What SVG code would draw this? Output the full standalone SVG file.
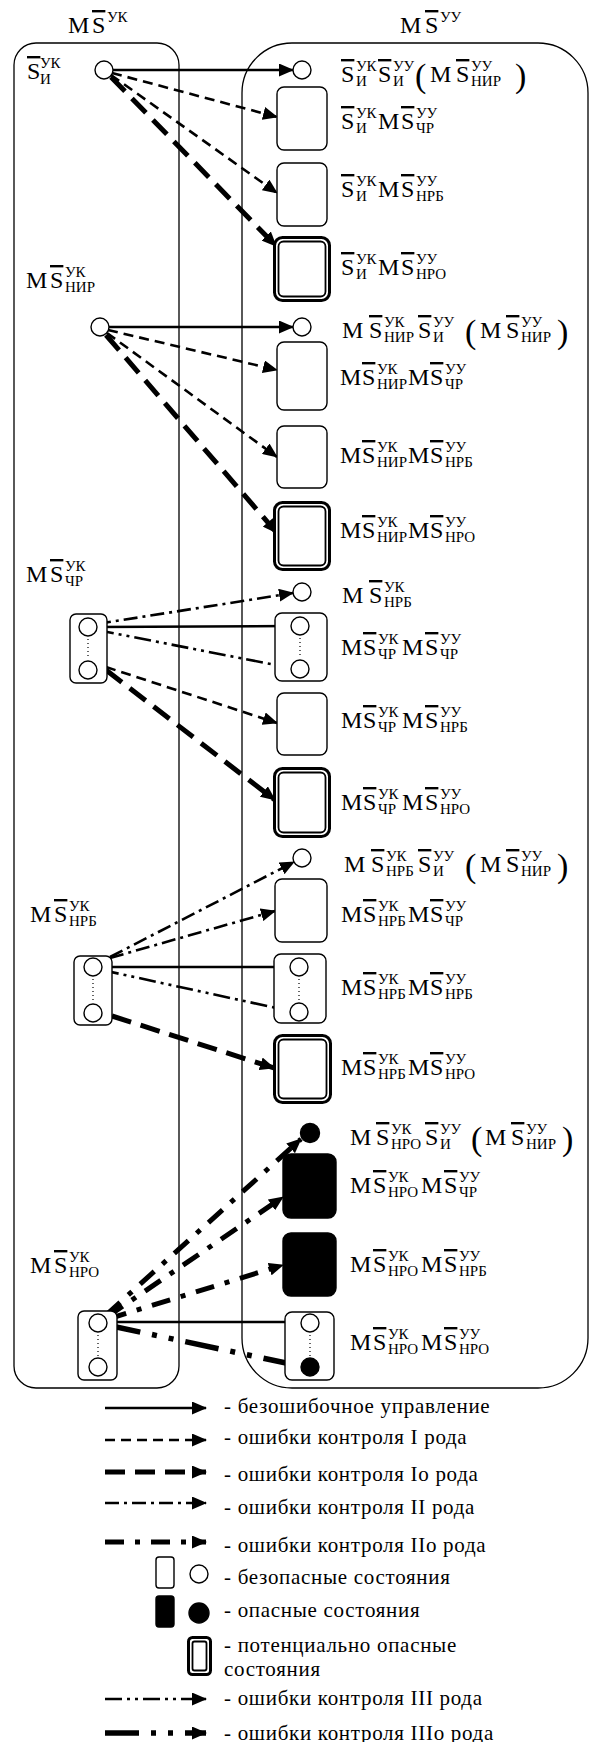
<svg xmlns="http://www.w3.org/2000/svg" width="590" height="1742" viewBox="0 0 590 1742">
<style>
.t{font-family:"Liberation Serif","Times New Roman",serif;font-size:24px;fill:#000}
.s{font-size:15px}
.p{font-size:34px}
.ov{text-decoration:overline}
.lg{font-family:"Liberation Serif","Times New Roman",serif;font-size:21px;letter-spacing:0.7px;fill:#000}
.box{fill:#fff;stroke:#000;stroke-width:1.4}
.dark{fill:#000;stroke:#000;stroke-width:1.4}
.pd{fill:#fff;stroke:#000;stroke-width:3}
.pi{fill:none;stroke:#000;stroke-width:1.8}
.dot{stroke:#000;stroke-width:1.2;stroke-dasharray:1 3}
.cont{fill:none;stroke:#000;stroke-width:1.3}
.c{fill:none;stroke:#000;marker-end:url(#ah)}
.sol{stroke-width:2.6}
.d1{stroke-width:2.6;stroke-dasharray:10 6}
.d1o{stroke-width:5;stroke-dasharray:20 10}
.d2{stroke-width:2.6;stroke-dasharray:14 5 3 5}
.d2o{stroke-width:5;stroke-dasharray:19 11 5 11}
.d3{stroke-width:2.6;stroke-dasharray:17 5 3 5 3 5}
.d3o{stroke-width:5.5;stroke-dasharray:34 12 5 12 5 12}
</style>
<defs>
<marker id="ah" viewBox="0 0 15 13" markerWidth="15" markerHeight="13" refX="14" refY="6.5" orient="auto" markerUnits="userSpaceOnUse"><path d="M0,0L15,6.5L0,13z" fill="#000"/></marker>
</defs>

<g id="containers">
<rect class="cont" x="14" y="43" width="165" height="1345" rx="22"/>
<rect class="cont" x="242" y="43" width="346" height="1345" rx="50"/>
<text class="t"><tspan x="68" y="33">M</tspan><tspan x="92" y="33" class="ov">S</tspan><tspan x="107" y="22" class="s">УК</tspan></text>
<text class="t"><tspan x="400" y="33">M</tspan><tspan x="425" y="33" class="ov">S</tspan><tspan x="440" y="22" class="s">УУ</tspan></text>
</g>

<g id="connectors">
<path class="c sol" d="M113,70L293,70"/>
<path class="c d1" d="M112,73L277,117"/>
<path class="c d1" d="M111,75L277,193"/>
<path class="c d1o" d="M111,77L276,246"/>
<path class="c sol" d="M109,327L293,327"/>
<path class="c d1" d="M108,330L277,370"/>
<path class="c d1" d="M107,333L277,457"/>
<path class="c d1o" d="M106,335L277,533"/>
<path class="c d2" d="M97,624L293,593"/>
<path class="c sol" d="M97,627L291,626"/>
<path class="c d3" d="M97,630L291,668"/>
<path class="c d1" d="M106,667L277,723"/>
<path class="c d1o" d="M106,670L275,800"/>
<path class="c d2" d="M110,957L294,862"/>
<path class="c d2" d="M110,958L275,911"/>
<path class="c sol" d="M102,967L290,967"/>
<path class="c d3" d="M102,970L290,1011"/>
<path class="c d1o" d="M112,1016L274,1068"/>
<path class="c d2o" d="M106,1315L301,1139"/>
<path class="c d2o" d="M107,1317L283,1197"/>
<path class="c d2o" d="M108,1319L283,1265"/>
<path class="c sol" d="M107,1322L300,1322"/>
<path class="c d3o" d="M107,1325L300,1366"/>
</g>

<g id="L1">
<circle class="box" cx="104" cy="70" r="9"/>
<text class="t"><tspan x="27" y="79" class="ov">S</tspan><tspan x="40" y="68" class="s">УК</tspan><tspan x="40" y="84" class="s">И</tspan></text>
</g>
<g id="R1a">
<circle class="box" cx="302" cy="70" r="9"/>
<text class="t"><tspan x="341" y="82" class="ov">S</tspan><tspan x="356" y="71" class="s">УК</tspan><tspan x="356" y="86" class="s">И</tspan><tspan x="378" y="82" class="ov">S</tspan><tspan x="393" y="71" class="s">УУ</tspan><tspan x="393" y="86" class="s">И</tspan><tspan x="415" y="87" class="p">(</tspan><tspan x="430" y="82">M</tspan><tspan x="456" y="82" class="ov">S</tspan><tspan x="471" y="71" class="s">УУ</tspan><tspan x="471" y="86" class="s">НИР</tspan><tspan x="515" y="87" class="p">)</tspan></text>
</g>
<g id="R1b">
<rect class="box" x="277" y="87" width="50" height="63" rx="7"/>
<text class="t"><tspan x="341" y="129" class="ov">S</tspan><tspan x="356" y="118" class="s">УК</tspan><tspan x="356" y="133" class="s">И</tspan><tspan x="378" y="129">M</tspan><tspan x="401" y="129" class="ov">S</tspan><tspan x="416" y="118" class="s">УУ</tspan><tspan x="416" y="133" class="s">ЧР</tspan></text>
</g>
<g id="R1c">
<rect class="box" x="277" y="163" width="50" height="63" rx="7"/>
<text class="t"><tspan x="341" y="197" class="ov">S</tspan><tspan x="356" y="186" class="s">УК</tspan><tspan x="356" y="201" class="s">И</tspan><tspan x="378" y="197">M</tspan><tspan x="401" y="197" class="ov">S</tspan><tspan x="416" y="186" class="s">УУ</tspan><tspan x="416" y="201" class="s">НРБ</tspan></text>
</g>
<g id="R1d">
<rect class="pd" x="274.5" y="237.5" width="55" height="63" rx="8"/>
<rect class="pi" x="278.5" y="241.5" width="47" height="55" rx="5"/>
<text class="t"><tspan x="341" y="275" class="ov">S</tspan><tspan x="356" y="264" class="s">УК</tspan><tspan x="356" y="279" class="s">И</tspan><tspan x="378" y="275">M</tspan><tspan x="401" y="275" class="ov">S</tspan><tspan x="416" y="264" class="s">УУ</tspan><tspan x="416" y="279" class="s">НРО</tspan></text>
</g>

<g id="L2">
<circle class="box" cx="100" cy="327" r="9"/>
<text class="t"><tspan x="26" y="288">M</tspan><tspan x="50" y="288" class="ov">S</tspan><tspan x="65" y="277" class="s">УК</tspan><tspan x="65" y="292" class="s">НИР</tspan></text>
</g>
<g id="R2a">
<circle class="box" cx="302" cy="327" r="9"/>
<text class="t"><tspan x="342" y="338">M</tspan><tspan x="369" y="338" class="ov">S</tspan><tspan x="384" y="327" class="s">УК</tspan><tspan x="384" y="342" class="s">НИР</tspan><tspan x="418" y="338" class="ov">S</tspan><tspan x="433" y="327" class="s">УУ</tspan><tspan x="433" y="342" class="s">И</tspan><tspan x="465" y="343" class="p">(</tspan><tspan x="480" y="338">M</tspan><tspan x="506" y="338" class="ov">S</tspan><tspan x="521" y="327" class="s">УУ</tspan><tspan x="521" y="342" class="s">НИР</tspan><tspan x="557" y="343" class="p">)</tspan></text>
</g>
<g id="R2b">
<rect class="box" x="277" y="342" width="50" height="68" rx="7"/>
<text class="t"><tspan x="340" y="385">M</tspan><tspan x="362" y="385" class="ov">S</tspan><tspan x="377" y="374" class="s">УК</tspan><tspan x="377" y="389" class="s">НИР</tspan><tspan x="408" y="385">M</tspan><tspan x="430" y="385" class="ov">S</tspan><tspan x="445" y="374" class="s">УУ</tspan><tspan x="445" y="389" class="s">ЧР</tspan></text>
</g>
<g id="R2c">
<rect class="box" x="277" y="426" width="50" height="62" rx="7"/>
<text class="t"><tspan x="340" y="463">M</tspan><tspan x="362" y="463" class="ov">S</tspan><tspan x="377" y="452" class="s">УК</tspan><tspan x="377" y="467" class="s">НИР</tspan><tspan x="408" y="463">M</tspan><tspan x="430" y="463" class="ov">S</tspan><tspan x="445" y="452" class="s">УУ</tspan><tspan x="445" y="467" class="s">НРБ</tspan></text>
</g>
<g id="R2d">
<rect class="pd" x="274.5" y="502.5" width="55" height="67" rx="8"/>
<rect class="pi" x="278.5" y="506.5" width="47" height="59" rx="5"/>
<text class="t"><tspan x="340" y="538">M</tspan><tspan x="362" y="538" class="ov">S</tspan><tspan x="377" y="527" class="s">УК</tspan><tspan x="377" y="542" class="s">НИР</tspan><tspan x="408" y="538">M</tspan><tspan x="430" y="538" class="ov">S</tspan><tspan x="445" y="527" class="s">УУ</tspan><tspan x="445" y="542" class="s">НРО</tspan></text>
</g>

<g id="L3">
<rect class="box" x="70" y="614" width="37" height="69" rx="6"/>
<circle class="box" cx="88" cy="627" r="9"/>
<circle class="box" cx="88" cy="670" r="9"/>
<line class="dot" x1="88" y1="639" x2="88" y2="659"/>
<text class="t"><tspan x="26" y="582">M</tspan><tspan x="50" y="582" class="ov">S</tspan><tspan x="65" y="571" class="s">УК</tspan><tspan x="65" y="586" class="s">ЧР</tspan></text>
</g>
<g id="R3a">
<circle class="box" cx="302" cy="592" r="9"/>
<text class="t"><tspan x="342" y="603">M</tspan><tspan x="369" y="603" class="ov">S</tspan><tspan x="384" y="592" class="s">УК</tspan><tspan x="384" y="607" class="s">НРБ</tspan></text>
</g>
<g id="R3b">
<rect class="box" x="275" y="613" width="52" height="68" rx="7"/>
<circle class="box" cx="300" cy="626" r="9"/>
<circle class="box" cx="300" cy="669" r="9"/>
<line class="dot" x1="300" y1="638" x2="300" y2="658"/>
<text class="t"><tspan x="341" y="655">M</tspan><tspan x="363" y="655" class="ov">S</tspan><tspan x="378" y="644" class="s">УК</tspan><tspan x="378" y="659" class="s">ЧР</tspan><tspan x="402" y="655">M</tspan><tspan x="425" y="655" class="ov">S</tspan><tspan x="440" y="644" class="s">УУ</tspan><tspan x="440" y="659" class="s">ЧР</tspan></text>
</g>
<g id="R3c">
<rect class="box" x="277" y="693" width="50" height="62" rx="7"/>
<text class="t"><tspan x="341" y="728">M</tspan><tspan x="363" y="728" class="ov">S</tspan><tspan x="378" y="717" class="s">УК</tspan><tspan x="378" y="732" class="s">ЧР</tspan><tspan x="402" y="728">M</tspan><tspan x="425" y="728" class="ov">S</tspan><tspan x="440" y="717" class="s">УУ</tspan><tspan x="440" y="732" class="s">НРБ</tspan></text>
</g>
<g id="R3d">
<rect class="pd" x="274.5" y="768.5" width="55" height="68" rx="8"/>
<rect class="pi" x="278.5" y="772.5" width="47" height="60" rx="5"/>
<text class="t"><tspan x="341" y="810">M</tspan><tspan x="363" y="810" class="ov">S</tspan><tspan x="378" y="799" class="s">УК</tspan><tspan x="378" y="814" class="s">ЧР</tspan><tspan x="402" y="810">M</tspan><tspan x="425" y="810" class="ov">S</tspan><tspan x="440" y="799" class="s">УУ</tspan><tspan x="440" y="814" class="s">НРО</tspan></text>
</g>

<g id="L4">
<rect class="box" x="74" y="956" width="38" height="69" rx="6"/>
<circle class="box" cx="93" cy="967" r="9"/>
<circle class="box" cx="93" cy="1013" r="9"/>
<line class="dot" x1="93" y1="979" x2="93" y2="1002"/>
<text class="t"><tspan x="30" y="922">M</tspan><tspan x="54" y="922" class="ov">S</tspan><tspan x="69" y="911" class="s">УК</tspan><tspan x="69" y="926" class="s">НРБ</tspan></text>
</g>
<g id="R4a">
<circle class="box" cx="302" cy="858" r="9"/>
<text class="t"><tspan x="344" y="872">M</tspan><tspan x="371" y="872" class="ov">S</tspan><tspan x="386" y="861" class="s">УК</tspan><tspan x="386" y="876" class="s">НРБ</tspan><tspan x="418" y="872" class="ov">S</tspan><tspan x="433" y="861" class="s">УУ</tspan><tspan x="433" y="876" class="s">И</tspan><tspan x="465" y="877" class="p">(</tspan><tspan x="480" y="872">M</tspan><tspan x="506" y="872" class="ov">S</tspan><tspan x="521" y="861" class="s">УУ</tspan><tspan x="521" y="876" class="s">НИР</tspan><tspan x="557" y="877" class="p">)</tspan></text>
</g>
<g id="R4b">
<rect class="box" x="275" y="879" width="52" height="63" rx="7"/>
<text class="t"><tspan x="341" y="922">M</tspan><tspan x="363" y="922" class="ov">S</tspan><tspan x="378" y="911" class="s">УК</tspan><tspan x="378" y="926" class="s">НРБ</tspan><tspan x="408" y="922">M</tspan><tspan x="430" y="922" class="ov">S</tspan><tspan x="445" y="911" class="s">УУ</tspan><tspan x="445" y="926" class="s">ЧР</tspan></text>
</g>
<g id="R4c">
<rect class="box" x="274" y="954" width="52" height="69" rx="7"/>
<circle class="box" cx="299" cy="967" r="9"/>
<circle class="box" cx="299" cy="1012" r="9"/>
<line class="dot" x1="299" y1="979" x2="299" y2="1001"/>
<text class="t"><tspan x="341" y="995">M</tspan><tspan x="363" y="995" class="ov">S</tspan><tspan x="378" y="984" class="s">УК</tspan><tspan x="378" y="999" class="s">НРБ</tspan><tspan x="408" y="995">M</tspan><tspan x="430" y="995" class="ov">S</tspan><tspan x="445" y="984" class="s">УУ</tspan><tspan x="445" y="999" class="s">НРБ</tspan></text>
</g>
<g id="R4d">
<rect class="pd" x="274.5" y="1035.5" width="56" height="67" rx="8"/>
<rect class="pi" x="278.5" y="1039.5" width="48" height="59" rx="5"/>
<text class="t"><tspan x="341" y="1075">M</tspan><tspan x="363" y="1075" class="ov">S</tspan><tspan x="378" y="1064" class="s">УК</tspan><tspan x="378" y="1079" class="s">НРБ</tspan><tspan x="408" y="1075">M</tspan><tspan x="430" y="1075" class="ov">S</tspan><tspan x="445" y="1064" class="s">УУ</tspan><tspan x="445" y="1079" class="s">НРО</tspan></text>
</g>

<g id="L5">
<rect class="box" x="78" y="1311" width="39" height="69" rx="6"/>
<circle class="box" cx="98" cy="1323" r="9"/>
<circle class="box" cx="98" cy="1367" r="9"/>
<line class="dot" x1="98" y1="1335" x2="98" y2="1356"/>
<text class="t"><tspan x="30" y="1273">M</tspan><tspan x="54" y="1273" class="ov">S</tspan><tspan x="69" y="1262" class="s">УК</tspan><tspan x="69" y="1277" class="s">НРО</tspan></text>
</g>
<g id="R5a">
<circle class="dark" cx="310" cy="1133" r="9.5"/>
<text class="t"><tspan x="350" y="1145">M</tspan><tspan x="376" y="1145" class="ov">S</tspan><tspan x="391" y="1134" class="s">УК</tspan><tspan x="391" y="1149" class="s">НРО</tspan><tspan x="425" y="1145" class="ov">S</tspan><tspan x="440" y="1134" class="s">УУ</tspan><tspan x="440" y="1149" class="s">И</tspan><tspan x="471" y="1150" class="p">(</tspan><tspan x="485" y="1145">M</tspan><tspan x="511" y="1145" class="ov">S</tspan><tspan x="526" y="1134" class="s">УУ</tspan><tspan x="526" y="1149" class="s">НИР</tspan><tspan x="562" y="1150" class="p">)</tspan></text>
</g>
<g id="R5b">
<rect class="dark" x="283" y="1154" width="53" height="64" rx="8"/>
<text class="t"><tspan x="350" y="1193">M</tspan><tspan x="373" y="1193" class="ov">S</tspan><tspan x="388" y="1182" class="s">УК</tspan><tspan x="388" y="1197" class="s">НРО</tspan><tspan x="421" y="1193">M</tspan><tspan x="444" y="1193" class="ov">S</tspan><tspan x="459" y="1182" class="s">УУ</tspan><tspan x="459" y="1197" class="s">ЧР</tspan></text>
</g>
<g id="R5c">
<rect class="dark" x="283" y="1233" width="53" height="63" rx="8"/>
<text class="t"><tspan x="350" y="1272">M</tspan><tspan x="373" y="1272" class="ov">S</tspan><tspan x="388" y="1261" class="s">УК</tspan><tspan x="388" y="1276" class="s">НРО</tspan><tspan x="421" y="1272">M</tspan><tspan x="444" y="1272" class="ov">S</tspan><tspan x="459" y="1261" class="s">УУ</tspan><tspan x="459" y="1276" class="s">НРБ</tspan></text>
</g>
<g id="R5d">
<rect class="box" x="285" y="1312" width="49" height="68" rx="7"/>
<circle class="box" cx="310" cy="1323" r="9"/>
<circle class="dark" cx="310" cy="1367" r="9"/>
<line class="dot" x1="310" y1="1335" x2="310" y2="1356"/>
<text class="t"><tspan x="350" y="1350">M</tspan><tspan x="373" y="1350" class="ov">S</tspan><tspan x="388" y="1339" class="s">УК</tspan><tspan x="388" y="1354" class="s">НРО</tspan><tspan x="421" y="1350">M</tspan><tspan x="444" y="1350" class="ov">S</tspan><tspan x="459" y="1339" class="s">УУ</tspan><tspan x="459" y="1354" class="s">НРО</tspan></text>
</g>

<g id="legend">
<path class="c sol" d="M105,1408L206,1408"/>
<path class="c d1" d="M105,1440L206,1440"/>
<path class="c d1o" d="M105,1472L206,1472"/>
<path class="c d2" d="M105,1503L206,1503"/>
<path class="c d2o" d="M105,1542L206,1542"/>
<path class="c d3" d="M105,1699L206,1699"/>
<path class="c d3o" d="M105,1733L206,1733"/>
<rect class="box" x="156" y="1557" width="18" height="31" rx="3"/>
<circle class="box" cx="199" cy="1574" r="9"/>
<rect class="dark" x="156" y="1596" width="18" height="31" rx="3"/>
<circle class="dark" cx="199" cy="1613" r="10"/>
<rect class="pd" x="188.5" y="1637.5" width="22" height="37" rx="4"/>
<rect class="pi" x="192.5" y="1641.5" width="14" height="29" rx="2"/>
<text class="lg" x="224" y="1413">- безошибочное управление</text>
<text class="lg" x="224" y="1444">- ошибки контроля I рода</text>
<text class="lg" x="224" y="1481">- ошибки контроля Io рода</text>
<text class="lg" x="224" y="1514">- ошибки контроля II рода</text>
<text class="lg" x="224" y="1552">- ошибки контроля IIo рода</text>
<text class="lg" x="224" y="1584">- безопасные состояния</text>
<text class="lg" x="224" y="1617">- опасные состояния</text>
<text class="lg" x="224" y="1652">- потенциально опасные</text>
<text class="lg" x="224" y="1676">состояния</text>
<text class="lg" x="224" y="1705">- ошибки контроля III рода</text>
<text class="lg" x="224" y="1740">- ошибки контроля IIIo рода</text>
</g>
</svg>
